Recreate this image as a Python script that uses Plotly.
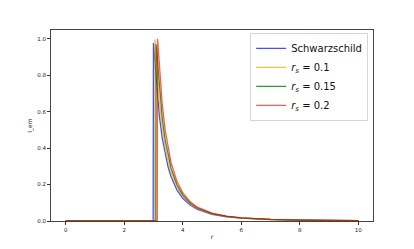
import plotly.graph_objects as go

# r grid for tails (shared)
r_tail = [3.2, 3.3, 3.4, 3.5, 3.6, 3.8, 4.0, 4.25, 4.5, 5.0, 5.5, 6.0, 7.0, 8.0, 9.0, 10.0]

# Schwarzschild
r_schw = [0.0, 2.99, 3.0, 3.1] + r_tail
i_schw = [0.0, 0.0, 0.976, 0.751, 0.579, 0.455, 0.364, 0.296, 0.244, 0.171, 0.125,
          0.0878, 0.064, 0.037, 0.0233, 0.0156, 0.008, 0.0046, 0.0029, 0.002]

# r_s = 0.1
r_01 = [0.0, 3.04, 3.05, 3.1] + r_tail
i_01 = [0.0, 0.0, 0.995, 0.864, 0.657, 0.512, 0.406, 0.328, 0.269, 0.187, 0.135,
        0.0939, 0.068, 0.039, 0.0244, 0.0162, 0.0082, 0.00475, 0.003, 0.002]

# r_s = 0.15
r_015 = [0.0, 3.08, 3.09] + r_tail
i_015 = [0.0, 0.0, 0.970, 0.731, 0.564, 0.445, 0.357, 0.290, 0.200, 0.1435,
         0.0992, 0.0714, 0.0406, 0.0252, 0.0167, 0.0084, 0.0048, 0.003, 0.002]

# r_s = 0.2
r_02 = [0.0, 3.13, 3.14] + r_tail
i_02 = [0.0, 0.0, 1.0, 0.84, 0.641, 0.50, 0.398, 0.321, 0.219, 0.155,
        0.1065, 0.076, 0.0427, 0.0264, 0.0174, 0.0087, 0.005, 0.0031, 0.0021]

names = ["Schwarzschild",
         "<i>r</i><sub><i>s</i></sub> = 0.1",
         "<i>r</i><sub><i>s</i></sub> = 0.15",
         "<i>r</i><sub><i>s</i></sub> = 0.2"]
colors = ["rgba(0,0,255,0.7)", "rgba(255,165,0,0.75)", "rgba(0,128,0,0.8)", "rgba(255,0,0,0.65)"]
xs = [r_schw, r_01, r_015, r_02]
ys = [i_schw, i_01, i_015, i_02]

x_ticks = [0, 2, 4, 6, 8, 10]
y_ticks = [0.0, 0.2, 0.4, 0.6, 0.8, 1.0]

fig = go.Figure()
for x, y, n, c in zip(xs, ys, names, colors):
    fig.add_trace(go.Scatter(x=x, y=y, mode="lines", name=n,
                             line=dict(color=c, width=1.3)))

# page body has an 8px default margin; figure sized to fill the rest
fig.update_layout(
    width=406, height=241,
    margin=dict(l=43, r=41, t=22, b=28, autoexpand=False),
    paper_bgcolor="white", plot_bgcolor="white",
    font=dict(family="DejaVu Sans", size=5.5, color="#222"),
    showlegend=True,
    legend=dict(x=0.985, y=0.985, xanchor="right", yanchor="top",
                bgcolor="rgba(255,255,255,0.9)", bordercolor="#d5d5d5", borderwidth=1,
                font=dict(size=10, color="#111"), tracegroupgap=0,
                itemwidth=30),
    xaxis=dict(range=[-0.5, 10.5], tickvals=x_ticks, ticks="outside", ticklen=3,
               tickcolor="#333", showgrid=False, zeroline=False, showline=True,
               linecolor="#444", linewidth=1, mirror=True, automargin=False,
               title=dict(text="r", font=dict(size=6), standoff=3)),
    yaxis=dict(range=[0, 1.048], tickvals=y_ticks, tickformat=".1f", ticks="outside",
               ticklen=3, tickcolor="#333", showgrid=False, zeroline=False, showline=True,
               linecolor="#444", linewidth=1, mirror=True, automargin=False,
               title=dict(text="I_em", font=dict(size=6), standoff=4)),
)

fig.write_html("out.html")
